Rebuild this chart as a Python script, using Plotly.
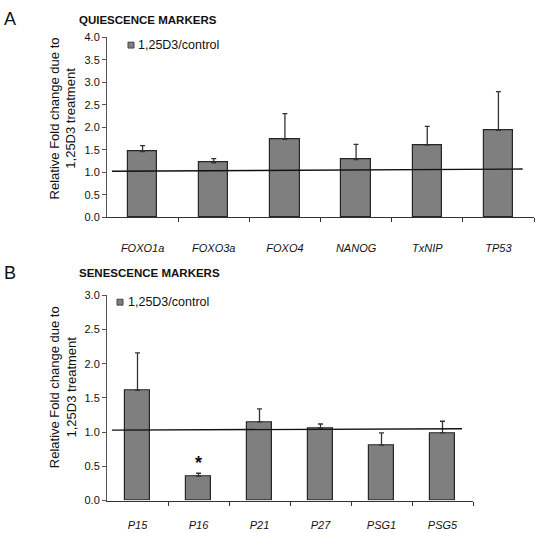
import plotly.graph_objects as go

# ---- data ----
cats_a = ["FOXO1a", "FOXO3a", "FOXO4", "NANOG", "TxNIP", "TP53"]
vals_a = [1.46, 1.21, 1.73, 1.28, 1.60, 1.93]
err_a = [0.13, 0.09, 0.57, 0.34, 0.42, 0.86]
trend_a_x = [-0.43, 5.34]
trend_a_y = [1.02, 1.07]

cats_b = ["P15", "P16", "P21", "P27", "PSG1", "PSG5"]
vals_b = [1.61, 0.36, 1.15, 1.06, 0.81, 0.99]
err_b = [0.55, 0.04, 0.19, 0.06, 0.18, 0.17]
trend_b_x = [-0.42, 5.32]
trend_b_y = [1.03, 1.05]

star_cat = 1
star_y = 0.62

series_name = "1,25D3/control"
ytitle = "Relative Fold change due to<br>1,25D3 treatment"
title_a = "QUIESCENCE MARKERS"
title_b = "SENESCENCE MARKERS"

FONT = "Arial, Liberation Sans, sans-serif"
W, H = 537, 533

def px_x(p):
    return p / W

def px_y(p):
    return 1 - p / H

fig = go.Figure()

BAR_FILL = "#7f7f7f"
BAR_EDGE = "#262626"
bar_style = dict(marker=dict(color=BAR_FILL, line=dict(color=BAR_EDGE, width=1.2)), width=0.41, showlegend=False)

def err(arr):
    return dict(type="data", symmetric=False, array=arr, arrayminus=[0] * len(arr),
                color="#333333", thickness=1.3, width=2.5)

fig.add_trace(go.Bar(x=list(range(len(cats_a))), y=vals_a, name=series_name, error_y=err(err_a),
                     xaxis="x", yaxis="y", **bar_style))
fig.add_trace(go.Scatter(x=trend_a_x, y=trend_a_y, mode="lines", line=dict(color="#111111", width=1.4),
                         showlegend=False, xaxis="x", yaxis="y", hoverinfo="skip"))

fig.add_trace(go.Bar(x=list(range(len(cats_b))), y=vals_b, name=series_name, error_y=err(err_b),
                     xaxis="x2", yaxis="y2", **bar_style))
fig.add_trace(go.Scatter(x=trend_b_x, y=trend_b_y, mode="lines", line=dict(color="#111111", width=1.4),
                         showlegend=False, xaxis="x2", yaxis="y2", hoverinfo="skip"))

def xax(domain, anchor, cats, standoff):
    return dict(domain=domain, anchor=anchor, range=[-0.5, len(cats) - 0.5],
                tickmode="array", tickvals=list(range(len(cats))), ticktext=cats, ticks="",
                showline=True, linecolor="#333333", linewidth=1, showgrid=False, zeroline=False,
                tickfont=dict(family=FONT, size=11, color="#111111", style="italic"),
                ticklabelstandoff=standoff,
                minor=dict(ticks="outside", tickmode="array",
                           tickvals=[i + 0.5 for i in range(len(cats))],
                           ticklen=4, tickcolor="#333333", tickwidth=1, showgrid=False))

def yax(domain, anchor, rng, dtick):
    return dict(domain=domain, anchor=anchor, range=rng, dtick=dtick, tickformat=".1f",
                ticks="outside", ticklen=4, tickcolor="#555555", showline=True, linecolor="#555555",
                linewidth=1, showgrid=False, zeroline=False,
                tickfont=dict(family=FONT, size=11, color="#111111"))

def legend_key(cx, cy, size=6):
    h = size / 2
    return dict(type="rect", xref="paper", yref="paper",
                x0=px_x(cx - h), x1=px_x(cx + h), y0=px_y(cy + h), y1=px_y(cy - h),
                fillcolor=BAR_FILL, line=dict(color="#444444", width=1))

def txt(text, x, y, size, **kw):
    d = dict(text=text, x=px_x(x), y=px_y(y), xref="paper", yref="paper", xanchor="left", yanchor="middle",
             showarrow=False, font=dict(family=FONT, size=size, color="#111111"))
    d.update(kw)
    return d

fig.update_layout(
    width=W, height=H, margin=dict(l=0, r=0, t=0, b=0),
    plot_bgcolor="white", paper_bgcolor="white",
    bargap=0, showlegend=False,
    xaxis=xax([px_x(107), px_x(534)], "y", cats_a, 21),
    yaxis=yax([px_y(216), px_y(32)], "x", [0, 4], 0.5),
    xaxis2=xax([px_x(107), px_x(473)], "y2", cats_b, 14),
    yaxis2=yax([px_y(506), px_y(296)], "x2", [0, 3], 0.5),
    shapes=[legend_key(131, 40), legend_key(120, 303)],
    annotations=[
        txt("A", 2, 13, 18),
        txt("B", 2, 273, 18),
        txt("<b>" + title_a + "</b>", 77, 14, 11.5),
        txt("<b>" + title_b + "</b>", 77, 273, 11.5),
        txt(series_name, 136, 40, 12.5),
        txt(series_name, 126, 303, 12.5),
        txt(ytitle, 63, 115, 13, textangle=-90, xanchor="center"),
        txt(ytitle, 63, 390, 13, textangle=-90, xanchor="center"),
        dict(text="<b>*</b>", x=star_cat, y=star_y, xref="x2", yref="y2", showarrow=False, yshift=-5,
             xanchor="center", yanchor="middle", font=dict(family=FONT, size=18, color="#111111")),
    ],
)

fig.write_html("out.html", config={"displayModeBar": False},
               post_script="document.body.style.margin='0';document.body.style.overflow='hidden';")
